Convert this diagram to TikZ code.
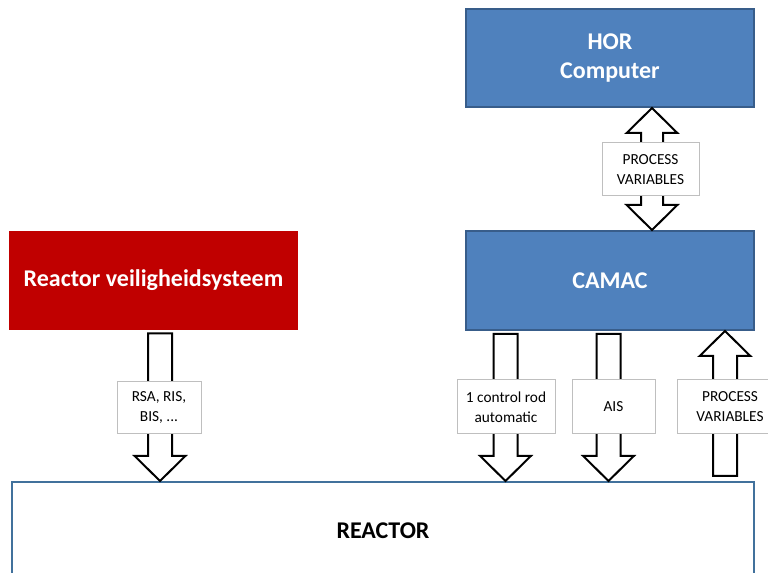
\documentclass[tikz,border=0pt]{standalone}
\usepackage{fontspec}
\setmainfont{Carlito}
\usetikzlibrary{positioning, calc}

\definecolor{bluefill}{HTML}{4F81BD}
\definecolor{blueedge}{HTML}{385D8A}
\definecolor{redfill}{HTML}{C00000}
\definecolor{labeledge}{HTML}{BFBFBF}
\definecolor{reactoredge}{HTML}{41719C}

\tikzset{
    fatdown/.style={draw=black, line width=1.5pt, fill=white,
        to path={let \p1=(\tikztostart), \p2=(\tikztotarget) in
            (\x1-9pt,\y1) -- (\x1-9pt,\y2+18.75pt) -- (\x1-19pt,\y2+18.75pt) -- (\x1,\y2)
            -- (\x1+19pt,\y2+18.75pt) -- (\x1+9pt,\y2+18.75pt) -- (\x1+9pt,\y1) -- cycle}},
    fatup/.style={draw=black, line width=1.5pt, fill=white,
        to path={let \p1=(\tikztostart), \p2=(\tikztotarget) in
            (\x1-9pt,\y1) -- (\x1-9pt,\y2-18.75pt) -- (\x1-19pt,\y2-18.75pt) -- (\x1,\y2)
            -- (\x1+19pt,\y2-18.75pt) -- (\x1+9pt,\y2-18.75pt) -- (\x1+9pt,\y1) -- cycle}},
    fatboth/.style={draw=black, line width=1.5pt, fill=white,
        to path={let \p1=(\tikztostart), \p2=(\tikztotarget) in
            (\x1,\y1) -- (\x1-19pt,\y1+18.75pt) -- (\x1-8.25pt,\y1+18.75pt)
            -- (\x1-8.25pt,\y2-18.75pt) -- (\x1-19pt,\y2-18.75pt) -- (\x1,\y2)
            -- (\x1+19pt,\y2-18.75pt) -- (\x1+8.25pt,\y2-18.75pt)
            -- (\x1+8.25pt,\y1+18.75pt) -- (\x1+19pt,\y1+18.75pt) -- cycle}},
}

\begin{document}
\begin{tikzpicture}[x=0.75pt, y=-0.75pt]
        \tikzstyle{block}=[rectangle, inner sep=0pt, align=center, text=white,
            font=\fontsize{18}{21.5}\selectfont\bfseries];
        \tikzstyle{bluebox}=[block, draw=blueedge, line width=1.5pt, fill=bluefill];
        \tikzstyle{tag}=[rectangle, draw=labeledge, line width=0.75pt, fill=white,
            inner sep=0pt, align=center, font=\fontsize{11.5}{15}\selectfont];

        \clip (0, 0) rectangle (768, 573);

        \node[bluebox, minimum width=216pt, minimum height=73.5pt] (hor) at (610, 58) {HOR\\Computer};
        \node[bluebox, minimum width=216pt, minimum height=74.25pt] (camac) at (610, 280.5) {CAMAC};
        \node[block, fill=redfill, minimum width=216.75pt, minimum height=74.25pt] (rvs) at (153.5, 280.5) {Reactor veiligheidsysteem};
        \node[block, draw=reactoredge, line width=1.5pt, fill=white, text=black,
            minimum width=556.5pt, minimum height=73.5pt] (reactor) at (383, 531) {REACTOR};

        \draw[fatdown] ($(rvs.south)+(6.5, 3)$) to (reactor.north);
        \draw[fatdown] ($(camac.south)+(-104.5, 3)$) to (reactor.north);
        \draw[fatdown] ($(camac.south)+(-1.5, 3)$) to (reactor.north);
        \draw[fatup] ($(reactor.north)+(342, -5)$) to (camac.south);
        \draw[fatboth] ($(camac.north)+(42, 0)$) to (hor.south);

        \node[tag, minimum width=63pt, minimum height=39pt] (lrvs) at (159, 408) {RSA, RIS,\\BIS, ...};
        \node[tag, minimum width=73.5pt, minimum height=40.5pt] (lrod) at (506, 407) {1 control rod\\automatic};
        \node[tag, minimum width=62.25pt, minimum height=40.5pt] (lais) at (613.5, 407) {AIS};
        \node[tag, minimum width=79.5pt, minimum height=40.5pt] (lpvlow) at (730, 407) {PROCESS\\VARIABLES};
        \node[tag, minimum width=72.75pt, minimum height=39.75pt] (lpvhigh) at (650.5, 169.5) {PROCESS\\VARIABLES};

    \end{tikzpicture}
\end{document}
